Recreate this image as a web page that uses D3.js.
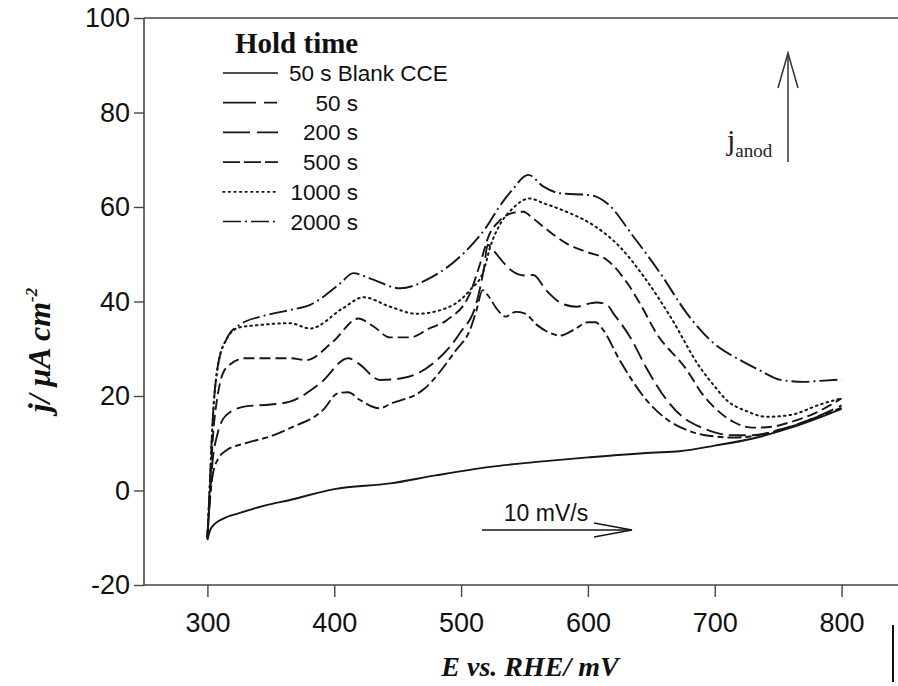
<!DOCTYPE html>
<html>
<head>
<meta charset="utf-8">
<script src="https://cdn.jsdelivr.net/npm/d3@7"></script>
<style>
  html, body { margin: 0; padding: 0; background: #fff; }
  svg { display: block; }
</style>
</head>
<body>
<svg id="chart" width="898" height="686"></svg>
<script>
// Anodic stripping voltammograms after different hold times (10 mV/s)

const xTicks = [300, 400, 500, 600, 700, 800];
const yTicks = [-20, 0, 20, 40, 60, 80, 100];

const legendLabels = ["50 s Blank CCE", "50  s", "200 s", "500 s", "1000 s", "2000 s"];

const blankE = [300, 302, 306, 312, 325, 345, 365, 400, 444, 480, 523, 562, 600, 650, 672, 700, 730, 760, 783, 800];
const blankJ = [-10.5, -8.5, -7, -6, -4.8, -3.2, -2, 0.3, 1.5, 3.2, 5, 6.1, 7, 8, 8.3, 9.5, 11, 13.3, 15.5, 17.3];

const hold50E = [300, 302, 304, 308, 315, 330, 350, 365, 391, 403, 411, 420, 436, 444, 470, 496, 507, 512, 517, 522, 528, 535, 543, 550, 560, 568, 578, 590, 600, 606, 612, 625, 646, 660, 678, 695, 715, 740, 760, 783, 800];
const hold50J = [-10, -2, 3, 6.5, 8.5, 10, 11.5, 13.2, 17, 20.6, 20.8, 19.2, 17.4, 18.3, 21.3, 29.7, 34, 38, 42.4, 41, 38.5, 36.8, 37.8, 37.5, 35, 33.6, 32.8, 34.2, 35.6, 35.6, 34, 27.6, 19.2, 15.5, 12.8, 11.6, 11.2, 12, 13.5, 15.8, 17.5];

const hold200E = [300, 302, 304, 308, 315, 330, 350, 365, 389, 411, 419, 436, 452, 481, 499, 512, 518, 521, 525, 531, 540, 550, 557, 567, 580, 591, 600, 607, 615, 620, 633, 647, 662, 675, 688, 700, 712, 730, 750, 775, 800];
const hold200J = [-10, -1, 6, 12, 16, 17.8, 18.2, 18.8, 22.7, 28, 26.9, 23.4, 23.7, 27.6, 33.3, 39.6, 47, 52, 51, 49, 46.5, 45.5, 45.6, 42.4, 39.5, 38.9, 39.5, 39.8, 39.3, 37.5, 32.6, 25.5, 19.2, 15.5, 13.5, 12.3, 11.7, 11.7, 12.8, 15, 18];

const hold500E = [300, 302, 304, 308, 315, 330, 350, 365, 378, 399, 419, 431, 444, 460, 475, 489, 507, 515, 522, 530, 540, 549, 557, 565, 583, 599, 615, 631, 641, 654, 678, 690, 700, 715, 730, 745, 760, 780, 800];
const hold500J = [-10, 0, 10, 20, 26, 28, 28, 28, 27.6, 31.5, 36.4, 34.7, 32.4, 32.4, 34.3, 36.1, 41.7, 48, 54, 57, 58.7, 59, 57.5, 55.8, 52.3, 50.5, 48.8, 43.9, 39.6, 33.3, 25.5, 20.5, 17.5, 14.5, 13.3, 13.5, 14.5, 16.5, 19.5];

const hold1000E = [300, 302, 304, 308, 315, 325, 340, 365, 381, 407, 423, 444, 465, 491, 507, 518, 523, 530, 540, 554, 565, 583, 604, 625, 644, 665, 688, 700, 709, 725, 741, 760, 783, 800];
const hold1000J = [-10, 2, 14, 26, 32, 34.5, 35, 35.4, 34.3, 38.6, 40.9, 38.9, 37.4, 38.9, 42.4, 46.7, 51.6, 56, 59.5, 61.8, 60.8, 59, 56.2, 51.6, 45.3, 36.8, 26.2, 22, 19.2, 16.8, 15.6, 16, 18.2, 19.5];

const hold2000E = [300, 302, 304, 308, 315, 325, 345, 365, 381, 405, 415, 428, 452, 475, 502, 520, 530, 540, 553, 565, 578, 602, 615, 636, 657, 678, 699, 720, 735, 752, 770, 783, 800];
const hold2000J = [-10, 2, 14, 26, 32, 35, 37, 38.2, 39.3, 43.9, 46, 44.9, 42.8, 44.9, 50.2, 55.8, 60, 63.5, 66.8, 64.3, 62.9, 62.5, 60.8, 53.7, 46, 37.5, 31.2, 27.6, 25.5, 23.4, 23, 23.2, 23.5];

const seriesE = [blankE, hold50E, hold200E, hold500E, hold1000E, hold2000E];
const seriesJ = [blankJ, hold50J, hold200J, hold500J, hold1000J, hold2000J];
const dashes = [null, "14,4,6,4", "17,6", "11,5", "1.6,4", "18,4,2,4"];

const svg = d3.select("#chart");
const W = 898, H = 686;

const x = d3.scaleLinear().domain([250, 850]).range([144, 905]);
const y = d3.scaleLinear().domain([-20, 100]).range([585, 18]);

const axisColor = "#444";
const inkColor = "#161616";
const sans = "'Liberation Sans', Arial, sans-serif";
const serif = "'Liberation Serif', 'Times New Roman', serif";

// frame lines: left axis, bottom axis and the top border
const frame = svg.append("g").attr("stroke", axisColor).attr("stroke-width", 1.6);
frame.append("line").attr("x1", x(250)).attr("x2", x(250)).attr("y1", y(100)).attr("y2", y(-20));
frame.append("line").attr("x1", x(250)).attr("x2", W).attr("y1", y(-20)).attr("y2", y(-20));
frame.append("line").attr("x1", x(250)).attr("x2", W).attr("y1", y(100)).attr("y2", y(100));

// axes
const xAxis = d3.axisBottom(x).tickValues(xTicks).tickSize(12).tickPadding(16).tickFormat(d => String(d));
const yAxis = d3.axisLeft(y).tickValues(yTicks).tickSize(10).tickPadding(4).tickFormat(d => String(d));

const gx = svg.append("g").attr("transform", `translate(0,${y(-20)})`).call(xAxis);
const gy = svg.append("g").attr("transform", `translate(${x(250)},0)`).call(yAxis);
[gx, gy].forEach(g => {
  g.select(".domain").remove();
  g.selectAll(".tick line").attr("stroke", axisColor).attr("stroke-width", 1.4);
  g.selectAll(".tick text").attr("fill", "#111").style("font-family", sans).style("font-size", "27px");
});

// axis titles
svg.append("text")
  .attr("x", 530).attr("y", 676)
  .attr("text-anchor", "middle")
  .style("font-family", serif).style("font-size", "28px")
  .style("font-weight", "bold").style("font-style", "italic")
  .attr("fill", "#111")
  .text("E vs. RHE/ mV");

const yTitle = svg.append("text")
  .attr("transform", "translate(50,350) rotate(-90)")
  .attr("text-anchor", "middle")
  .style("font-family", serif).style("font-size", "32px")
  .style("font-weight", "bold").style("font-style", "italic")
  .attr("fill", "#111");
yTitle.append("tspan").text("j/ μA cm");
yTitle.append("tspan").attr("dy", -13).style("font-size", "17px").text("-2");

// curves
const line = d3.line()
  .x(d => x(d[0]))
  .y(d => y(d[1]))
  .curve(d3.curveMonotoneX);

const curves = svg.append("g").attr("fill", "none").attr("stroke", inkColor);
seriesE.forEach((es, i) => {
  const pts = es.map((e, k) => [e, seriesJ[i][k]]);
  curves.append("path")
    .datum(pts)
    .attr("d", line)
    .attr("stroke-width", i === 4 ? 2 : 1.9)
    .attr("stroke-dasharray", dashes[i])
    .attr("stroke-linecap", i === 4 ? "round" : "butt");
});

// legend
const legend = svg.append("g");
legend.append("text")
  .attr("x", 235).attr("y", 53)
  .style("font-family", serif).style("font-size", "29px").style("font-weight", "bold")
  .attr("fill", "#111")
  .text("Hold time");

legendLabels.forEach((lab, i) => {
  const cy = 73 + i * 29.7;
  legend.append("line")
    .attr("x1", 223).attr("x2", 278).attr("y1", cy).attr("y2", cy)
    .attr("stroke", inkColor).attr("stroke-width", 1.7)
    .attr("stroke-dasharray", i === 1 ? "33,8,13,8" : i === 2 ? "27,7,21" : i === 3 ? "17,4" : dashes[i])
    .attr("stroke-linecap", i === 4 ? "round" : "butt");
  legend.append("text")
    .attr("x", i === 0 ? 289 : 358).attr("y", cy + 8)
    .attr("text-anchor", i === 0 ? "start" : "end")
    .style("font-family", sans).style("font-size", "22.5px")
    .attr("fill", "#111")
    .text(lab);
});

// scan direction arrow
const scan = svg.append("g").attr("stroke", inkColor).attr("fill", "none").attr("stroke-width", 1.5);
scan.append("line").attr("x1", 482).attr("x2", 632).attr("y1", 530).attr("y2", 530);
scan.append("path").attr("d", "M594,523 L632,530 L594,537");
svg.append("text")
  .attr("x", 546).attr("y", 521)
  .attr("text-anchor", "middle")
  .style("font-family", sans).style("font-size", "23px")
  .attr("fill", "#111")
  .text("10 mV/s");

// anodic current direction arrow
const up = svg.append("g").attr("stroke", "#333").attr("fill", "none").attr("stroke-width", 1.5);
up.append("line").attr("x1", 788).attr("x2", 788).attr("y1", 162).attr("y2", 54);
up.append("path").attr("d", "M778,88 L788,53 L798,88");
const jl = svg.append("text")
  .attr("x", 727).attr("y", 150)
  .style("font-family", serif).style("font-size", "30px")
  .attr("fill", "#222");
jl.append("tspan").text("j");
jl.append("tspan").attr("dy", 7).style("font-size", "19px").text("anod");

// short vertical rule at the lower right
svg.append("line")
  .attr("x1", 893).attr("x2", 893).attr("y1", 625).attr("y2", 682)
  .attr("stroke", "#111").attr("stroke-width", 2);
</script>
</body>
</html>
